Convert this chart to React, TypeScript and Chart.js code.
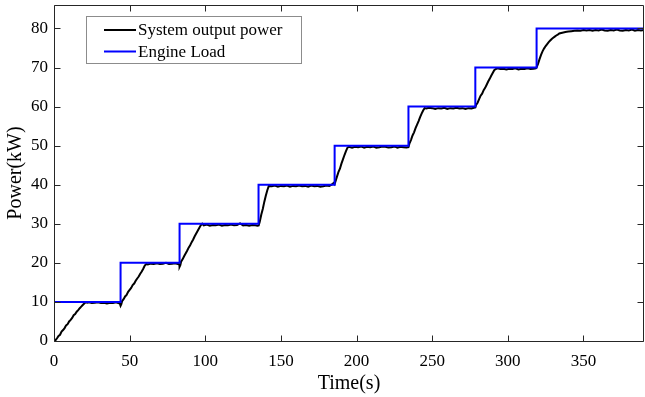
import React, { useEffect, useRef } from "react";
import { Chart, registerables } from "chart.js";

Chart.register(...registerables);

const FONT = "'Liberation Serif', 'Times New Roman', serif";

const xTicks = [0, 50, 100, 150, 200, 250, 300, 350];
const yTicks = [0, 10, 20, 30, 40, 50, 60, 70, 80];
const X_MIN = 0;
const X_MAX = 390;
const Y_MIN = 0;
const Y_MAX = 86;

const xTitle = "Time(s)";
const yTitle = "Power(kW)";

const outputLabel = "System output power";
const loadLabel = "Engine Load";

// Engine load (step reference)
const loadTime = [0, 44, 44, 83, 83, 135.2, 135.2, 185.5, 185.5, 234.3, 234.3, 278.5, 278.5, 319, 319, 390];
const loadPower = [10, 10, 20, 20, 30, 30, 40, 40, 50, 50, 60, 60, 70, 70, 80, 80];

// System output power
const outputTime = [
  0, 1, 2, 3, 4, 5, 6, 7, 8, 9, 10, 11, 12, 13, 14, 15, 16, 17, 18, 19, 20, 21, 22, 23, 25, 27, 29, 31, 33, 35, 37, 39, 41, 42.5, 43.5, 44,
  44.5, 45, 46, 47, 48, 49, 50, 51, 52, 53, 54, 55, 56, 57, 58, 59, 60, 61, 62, 64, 66, 68, 70, 72, 74, 76, 78, 80, 82, 82.8, 83,
  83.5, 84, 85, 86, 87, 88, 89, 90, 91, 92, 93, 94, 95, 96, 97, 98, 99, 101, 103, 105, 107, 109, 111, 113, 115, 117, 119, 121, 123, 125, 127, 129, 131, 133, 134.5, 135.3,
  136, 137, 138, 139, 140, 141, 142, 144, 146, 148, 150, 152, 154, 156, 158, 160, 162, 164, 166, 168, 170, 172, 174, 176, 178, 180, 182, 183.5, 185, 185.5,
  186, 187, 188, 189, 190, 191, 192, 193, 194, 195, 197, 199, 201, 203, 205, 207, 209, 211, 213, 215, 217, 219, 221, 223, 225, 227, 229, 231, 233, 234.3,
  235, 236, 237, 238, 239, 240, 241, 242, 243, 244, 245, 246, 248, 250, 252, 254, 256, 258, 260, 262, 264, 266, 268, 270, 272, 274, 276, 277.5, 278.5,
  279, 280, 281, 282, 283, 284, 285, 286, 287, 288, 289, 290, 291, 292, 293, 295, 297, 299, 301, 303, 305, 307, 309, 311, 313, 315, 317, 318.5, 319,
  320, 321, 322, 323, 324, 325, 326, 327, 328, 329, 330, 331, 332, 333, 334, 336, 338, 340, 342, 344, 346, 348, 350, 352, 354, 356, 358, 360, 362, 364, 366, 368, 370, 372, 374, 376, 378, 380, 382, 384, 386, 388, 390,
];
const outputPower = [
  0, 0.2, 0.7, 1.3, 1.6, 2.4, 2.8, 3.3, 4.0, 4.3, 5.0, 5.4, 5.9, 6.6, 6.9, 7.5, 7.9, 8.4, 8.8, 9.2, 9.6, 9.9, 9.8, 9.9, 9.7, 9.8, 9.9, 9.7, 9.8, 9.6, 9.8, 9.7, 9.9, 9.7, 9.6, 9.0,
  9.4, 10.2, 10.7, 11.4, 11.8, 12.6, 13.1, 13.6, 14.3, 14.7, 15.4, 16.0, 16.5, 17.2, 17.8, 18.5, 19.3, 19.7, 19.6, 19.8, 19.7, 19.9, 19.7, 19.8, 20.0, 19.7, 19.8, 19.9, 19.7, 19.6, 19.0,
  19.4, 20.3, 20.9, 21.7, 22.4, 23.1, 23.9, 24.5, 25.3, 26.0, 26.8, 27.5, 28.2, 28.9, 29.6, 30.0, 29.6, 29.8, 29.5, 29.7, 29.6, 29.8, 29.5, 29.7, 29.6, 29.8, 29.6, 29.7, 30.1, 29.6, 29.7, 29.5, 29.7, 29.6, 29.5, 29.6,
  30.5, 32.3, 33.8, 35.6, 37.2, 38.6, 39.7, 39.6, 39.8, 39.5, 39.7, 39.6, 39.8, 39.5, 39.7, 39.6, 39.8, 39.6, 39.7, 39.5, 39.8, 39.6, 39.7, 39.5, 39.6, 39.8, 39.7, 40.0, 40.5, 40.2,
  40.8, 42.0, 43.2, 44.1, 45.4, 46.5, 47.6, 48.6, 49.5, 49.7, 49.5, 49.7, 49.6, 49.8, 49.5, 49.7, 49.6, 49.8, 49.5, 49.6, 49.8, 49.7, 49.5, 49.6, 49.8, 49.5, 49.7, 49.6, 49.5, 49.6,
  50.6, 51.5, 52.6, 53.4, 54.5, 55.4, 56.3, 57.3, 58.2, 59.0, 59.6, 59.5, 59.7, 59.6, 59.4, 59.6, 59.5, 59.7, 59.4, 59.6, 59.5, 59.7, 59.5, 59.6, 59.4, 59.6, 59.5, 59.7, 59.8,
  60.4, 61.0, 61.9, 62.8, 63.3, 64.2, 64.8, 65.6, 66.4, 67.1, 67.9, 68.6, 69.3, 69.6, 69.8, 69.6, 69.7, 69.5, 69.7, 69.6, 69.8, 69.5, 69.7, 69.6, 69.8, 69.6, 69.7, 69.8, 70.0,
  71.0, 72.2, 73.3, 74.2, 74.9, 75.5, 76.0, 76.5, 76.9, 77.3, 77.6, 77.9, 78.2, 78.4, 78.7, 78.9, 79.1, 79.2, 79.3, 79.4, 79.5, 79.4, 79.6, 79.5, 79.6, 79.4, 79.6, 79.5, 79.7, 79.5, 79.4, 79.6, 79.5, 79.7, 79.5, 79.4, 79.6, 79.5, 79.7, 79.4, 79.6, 79.5, 79.6,
];

const toPoints = (xs: number[], ys: number[]) => xs.map((x, i) => ({ x, y: ys[i] }));

const framePlugin = {
  id: "matlabFrame",
  afterDatasetsDraw(chart: any) {
    const { ctx, chartArea: a, scales } = chart;
    const xs = scales.x;
    const ys = scales.y;
    const L = Math.round(a.left) + 0.5;
    const R = Math.round(a.right) - 0.5;
    const T = Math.round(a.top) + 0.5;
    const B = Math.round(a.bottom) + 0.5;
    const tl = 6;
    ctx.save();
    ctx.strokeStyle = "#262626";
    ctx.lineWidth = 1;
    ctx.beginPath();
    ctx.rect(L, T, R - L, B - T);
    for (const v of xTicks) {
      const px = Math.round(xs.getPixelForValue(v)) + 0.5;
      ctx.moveTo(px, B);
      ctx.lineTo(px, B - tl);
      ctx.moveTo(px, T);
      ctx.lineTo(px, T + tl);
    }
    for (const v of yTicks) {
      const py = Math.round(ys.getPixelForValue(v)) + 0.5;
      ctx.moveTo(L, py);
      ctx.lineTo(L + tl, py);
      ctx.moveTo(R, py);
      ctx.lineTo(R - tl, py);
    }
    ctx.stroke();

    // legend box
    const lx = 86.5, ly = 16.5, lw = 215, lh = 47;
    ctx.fillStyle = "#ffffff";
    ctx.fillRect(lx, ly, lw, lh);
    ctx.strokeStyle = "#8c8c8c";
    ctx.lineWidth = 1;
    ctx.strokeRect(lx, ly, lw, lh);
    const items = [
      { label: outputLabel, color: "#000000", y: 30 },
      { label: loadLabel, color: "#0000ff", y: 51.5 },
    ];
    ctx.font = `17px ${FONT}`;
    ctx.textBaseline = "middle";
    ctx.textAlign = "left";
    for (const it of items) {
      ctx.strokeStyle = it.color;
      ctx.lineWidth = 2;
      ctx.beginPath();
      ctx.moveTo(104, it.y);
      ctx.lineTo(136, it.y);
      ctx.stroke();
      ctx.fillStyle = "#000000";
      ctx.fillText(it.label, 138, it.y + 1);
    }
    ctx.restore();
  },
};

export default function App() {
  const ref = useRef<HTMLCanvasElement | null>(null);

  useEffect(() => {
    if (!ref.current) return;
    const chart = new Chart(ref.current, {
      type: "line",
      data: {
        datasets: [
          {
            label: outputLabel,
            data: toPoints(outputTime, outputPower),
            borderColor: "#000000",
            borderWidth: 2,
            pointRadius: 0,
            tension: 0,
            fill: false,
            order: 2,
          },
          {
            label: loadLabel,
            data: toPoints(loadTime, loadPower),
            borderColor: "#0000ff",
            borderWidth: 2,
            pointRadius: 0,
            tension: 0,
            fill: false,
            order: 1,
          },
        ],
      },
      options: {
        animation: false,
        responsive: false,
        devicePixelRatio: 1,
        parsing: false as any,
        layout: { padding: { top: 5, right: 1, left: 0, bottom: 0 } },
        plugins: {
          legend: { display: false },
          tooltip: { enabled: false },
        },
        scales: {
          x: {
            type: "linear",
            min: X_MIN,
            max: X_MAX,
            afterBuildTicks: (s: any) => {
              s.ticks = xTicks.map((v) => ({ value: v }));
            },
            afterFit: (s: any) => {
              s.height = 56;
              s.paddingLeft = 0;
              s.paddingRight = 0;
            },
            grid: { display: false, drawTicks: false },
            border: { display: false },
            ticks: {
              padding: 10,
              color: "#000",
              font: { family: FONT, size: 17 },
              maxRotation: 0,
              autoSkip: false,
            },
            title: {
              display: true,
              text: xTitle,
              color: "#000",
              font: { family: FONT, size: 20 },
              padding: { top: 0, bottom: 1 },
            },
          },
          y: {
            type: "linear",
            min: Y_MIN,
            max: Y_MAX,
            afterBuildTicks: (s: any) => {
              s.ticks = yTicks.map((v) => ({ value: v }));
            },
            afterFit: (s: any) => {
              s.width = 54;
              s.paddingTop = 0;
              s.paddingBottom = 0;
            },
            grid: { display: false, drawTicks: false },
            border: { display: false },
            ticks: {
              padding: 6,
              color: "#000",
              font: { family: FONT, size: 17 },
              autoSkip: false,
            },
            title: {
              display: true,
              text: yTitle,
              color: "#000",
              font: { family: FONT, size: 20 },
              padding: { top: 4, bottom: 0 },
            },
          },
        },
      },
      plugins: [framePlugin],
    });
    return () => chart.destroy();
  }, []);

  return (
    <div style={{ position: "fixed", left: 0, top: 0, width: 645, height: 397, background: "#fff" }}>
      <canvas ref={ref} width={645} height={397} style={{ width: 645, height: 397, display: "block" }} />
    </div>
  );
}
